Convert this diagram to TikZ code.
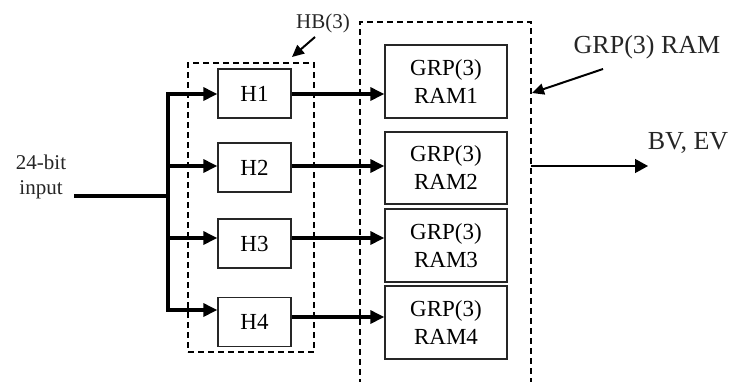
\documentclass[tikz,border=0pt]{standalone}
\usepackage{fontspec}
\setmainfont{Liberation Serif}
\usetikzlibrary{arrows.meta}
\begin{document}
\begin{tikzpicture}[x=1pt,y=-1pt,
  blk/.style={draw,line width=1.3pt,inner sep=0pt,draw=black!85},
  hbox/.style={blk,minimum width=73pt,minimum height=49pt,font=\fontsize{23}{27}\selectfont},
  rambox/.style={blk,minimum width=122pt,minimum height=73pt,align=center,
                 font=\fontsize{23}{28}\selectfont},
  grpline/.style={line width=1.2pt,dash pattern=on 6pt off 4pt},
  bus/.style={line width=3.2pt,-{Triangle[length=14pt,width=13pt]}},
  wire/.style={line width=3.2pt},
  pointer/.style={line width=2pt,-{Triangle[length=12pt,width=11pt]}},
  thinarrow/.style={line width=1.3pt,-{Triangle[length=13pt,width=14pt]}},
  lbl/.style={inner sep=0pt,align=center,text=black!85}]
\useasboundingbox (0,0) rectangle (733,381);

% hash block group HB(3)
\node[grpline,draw,minimum width=126pt,minimum height=289pt,inner sep=0pt] (hb) at (251,207.5) {};

% GRP(3) RAM group, open at the bottom
\draw[grpline] (360,395) -- (360,22) -- (531,22) -- (531,395);
\coordinate (gout) at (531,166);
\coordinate (gin) at (532,93);

% hash units
\node[hbox] (H1) at (254.5,93.5) {H1};
\node[hbox] (H2) at (254.5,167.5) {H2};
\node[hbox] (H3) at (254.5,243.5) {H3};
\node[hbox] (H4) at (254.5,322) {H4};

% RAM blocks
\node[rambox] (R1) at (446,81.5) {GRP(3)\\RAM1};
\node[rambox,minimum height=72pt] (R2) at (446,168) {GRP(3)\\RAM2};
\node[rambox] (R3) at (446,245.5) {GRP(3)\\RAM3};
\node[rambox] (R4) at (446,322.5) {GRP(3)\\RAM4};

% input and its fan-out
\node[lbl,font=\fontsize{21}{25}\selectfont] (inp) at (41,177) {24-bit\\input};
\coordinate (in) at (74,196);
\coordinate (br) at (168,196);
\draw[wire] (in) -- (br);
\draw[wire] (168,94) -- (168,310);
\draw[bus] (br) |- (H1.west |- 0,94);
\draw[bus] (br) |- (H2.west |- 0,166);
\draw[bus] (br) |- (H3.west |- 0,238);
\draw[bus] (br) |- (H4.west |- 0,310);

% hash outputs into the RAMs
\draw[bus] (H1.east |- 0,94) -- (R1.west |- 0,94);
\draw[bus] (H2.east |- 0,166) -- (R2.west |- 0,166);
\draw[bus] (H3.east |- 0,238) -- (R3.west |- 0,238);
\draw[bus] (H4.east |- 0,317) -- (R4.west |- 0,317);

% labels
\node[lbl,font=\fontsize{21}{25}\selectfont] (hbl) at (323,23) {HB(3)};
\coordinate (hbs) at (315,37);
\draw[pointer] (hbs) -- (292,57);

\node[lbl,font=\fontsize{26}{30}\selectfont] (grl) at (647,47) {GRP(3) RAM};
\coordinate (grs) at (603,69);
\draw[pointer] (grs) -- (gin);

\node[lbl,font=\fontsize{26}{30}\selectfont] (bv) at (688,143) {BV, EV};
\coordinate (bve) at (648,166);
\draw[thinarrow] (gout) -- (bve);
\end{tikzpicture}
\end{document}
